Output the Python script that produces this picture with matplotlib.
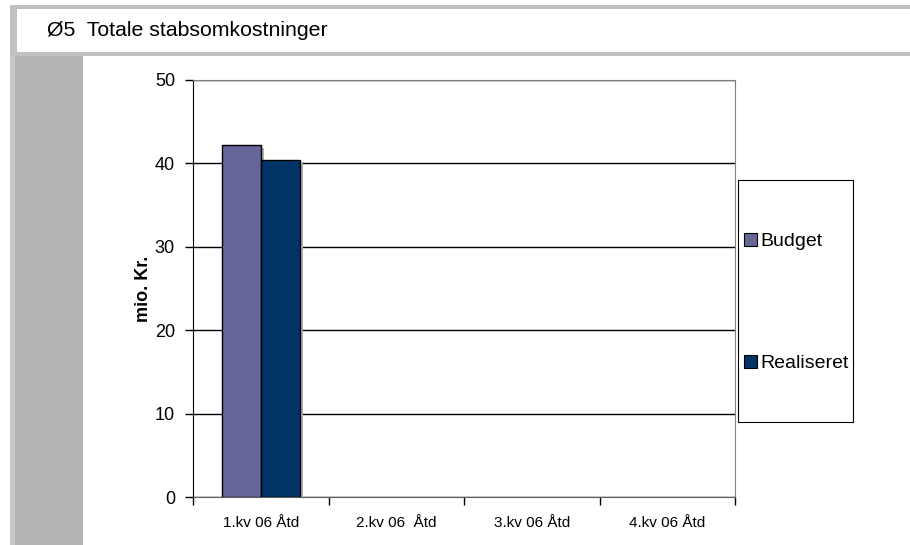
import numpy as np
import matplotlib.pyplot as plt
import matplotlib.patches as mpatches
import matplotlib.patheffects as pe

plt.rcParams['font.family'] = ['Liberation Sans', 'DejaVu Sans']

# data
categories = ['1.kv 06 Åtd', '2.kv 06  Åtd', '3.kv 06 Åtd', '4.kv 06 Åtd']
budget = [42.2, 0, 0, 0]
realiseret = [40.4, 0, 0, 0]
series_names = ['Budget', 'Realiseret']
colors = ['#666699', '#003366']
title = 'Ø5  Totale stabsomkostninger'
ylabel = 'mio. Kr.'

W, H = 910, 545
fig = plt.figure(figsize=(W / 100, H / 100), dpi=100)
fig.patch.set_facecolor('white')


def px_rect(x0, y0, x1, y1, color, z=0):
    # rectangle in pixel coords (top-left origin)
    r = mpatches.Rectangle((x0 / W, 1 - y1 / H), (x1 - x0) / W, (y1 - y0) / H,
                           transform=fig.transFigure, facecolor=color,
                           edgecolor='none', zorder=z)
    fig.patches.append(r)


# frame around header and left gray strip
px_rect(10, 5, W, 56, '#c0c0c0')
px_rect(17, 9, W, 52, 'white', z=1)
px_rect(10, 56, 83, H, '#c8c8c8')
px_rect(15, 56, 83, H, '#b3b3b3', z=1)
fig.text(47 / W, 1 - 31 / H, title, fontsize=15.3, va='center', ha='left', zorder=3)

ax = fig.add_axes([193 / W, 48 / H, 542 / W, 417 / H])
x = np.arange(len(categories))
bw = 0.289
shadow = [pe.SimplePatchShadow(offset=(2, -2), shadow_rgbFace='#b0b0b0', alpha=1), pe.Normal()]
b1 = ax.bar(x - bw / 2, budget, bw, color=colors[0], edgecolor='black', linewidth=1,
            label=series_names[0], zorder=3)
b2 = ax.bar(x + bw / 2, realiseret, bw, color=colors[1], edgecolor='black', linewidth=1,
            label=series_names[1], zorder=3)
for p in list(b1) + list(b2):
    if p.get_height() > 0:
        p.set_path_effects(shadow)
    else:
        p.set_visible(False)

ax.set_xlim(-0.5, len(categories) - 0.5)
ax.set_ylim(0, 50)
ax.set_yticks(np.arange(0, 51, 10))
ax.yaxis.grid(True, color='black', linewidth=1)
ax.set_axisbelow(True)
ax.tick_params(axis='y', length=6, width=1, pad=7, labelsize=13)

ax.set_xticks(np.arange(-0.5, len(categories), 1))
ax.set_xticklabels([])
ax.set_xticks(x, minor=True)
ax.set_xticklabels(categories, minor=True, fontsize=11)
ax.tick_params(axis='x', which='major', length=6, width=1, color='black')
ax.tick_params(axis='x', which='minor', length=0, pad=14)

for s in ['top', 'right']:
    ax.spines[s].set_color('#808080')
ax.spines['bottom'].set_color('#606060')
ax.spines['left'].set_color('black')

ax.set_ylabel(ylabel, fontsize=13, fontweight='bold')
ax.yaxis.set_label_coords(-0.092, 0.5)
ax.yaxis.label.set_va('center')

# legend box
lg_box = mpatches.Rectangle((738 / W, 1 - 422 / H), 115 / W, 242 / H,
                            transform=fig.transFigure, facecolor='white',
                            edgecolor='black', linewidth=0.8, zorder=2)
fig.patches.append(lg_box)
handles = [mpatches.Patch(facecolor=c, edgecolor='black', linewidth=0.8) for c in colors]
fig.legend(handles, series_names, loc='center left', bbox_to_anchor=(744 / W, 1 - 302.5 / H),
           frameon=False, fontsize=14, labelspacing=5.4, handlelength=0.65,
           handleheight=0.65, handletextpad=0.2, borderaxespad=0, borderpad=0)

fig.savefig('out.png', dpi=100)
